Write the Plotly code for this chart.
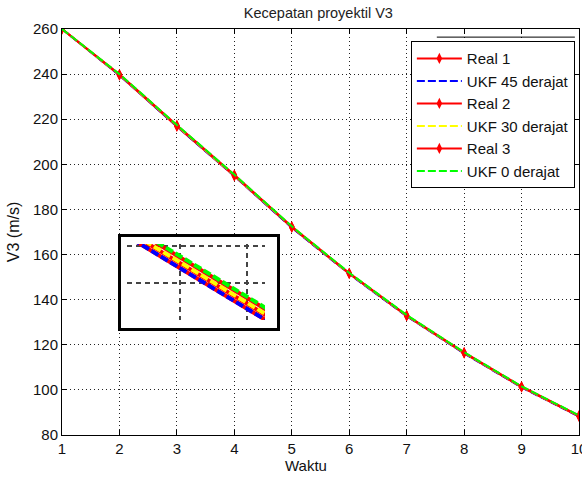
import plotly.graph_objects as go

waktu = [1, 2, 3, 4, 5, 6, 7, 8, 9, 10]
real1 = [260.0, 239.5, 216.8, 194.8, 172.0, 151.5, 132.8, 116.3, 101.2, 88.3]
ukf45 = [260.0, 239.5, 216.8, 194.8, 171.9, 151.4, 132.7, 116.2, 101.1, 88.2]
real2 = [260.0, 239.7, 217.07, 195.07, 172.2, 151.6, 132.9, 116.4, 101.3, 88.4]
ukf30 = [260.0, 239.8, 217.12, 195.12, 172.3, 151.7, 133.0, 116.5, 101.4, 88.5]
real3 = [260.0, 239.9, 217.38, 195.38, 172.4, 151.8, 133.1, 116.6, 101.5, 88.6]
ukf0 = [260.0, 240.0, 217.45, 195.45, 172.5, 151.9, 133.2, 116.7, 101.6, 88.7]

series = [
    ("Real 1", real1, "red", "solid", True),
    ("UKF 45 derajat", ukf45, "blue", "8px,3px", False),
    ("Real 2", real2, "red", "solid", True),
    ("UKF 30 derajat", ukf30, "yellow", "8px,3px", False),
    ("Real 3", real3, "red", "solid", True),
    ("UKF 0 derajat", ukf0, "#00ff00", "8px,3px", False),
]

FONT = "Liberation Sans, Arial, sans-serif"
fig = go.Figure()
for i, (name, vals, col, dash, mk) in enumerate(series):
    fig.add_trace(go.Scatter(
        x=waktu, y=vals, name=name,
        mode="lines+markers" if mk else "lines",
        line=dict(color=col, width=2, dash=dash),
        marker=dict(symbol="diamond-tall", size=8, color="red") if mk else None,
        xaxis="x", yaxis="y"))
# empty trace that creates the inset frame subplot
fig.add_trace(go.Scatter(x=[], y=[], showlegend=False, xaxis="x2", yaxis="y2"))
# inset (zoomed view of the same series)
for i, (name, vals, col, dash, mk) in enumerate(series):
    fig.add_trace(go.Scatter(
        x=waktu, y=vals, name=name, showlegend=False, mode="lines",
        line=dict(color=col, width=4, dash=dash),
        xaxis="x3", yaxis="y3"))

axis_common = dict(showline=True, linecolor="black", linewidth=1, mirror="ticks",
                   ticks="inside", ticklen=5, tickcolor="black", zeroline=False,
                   showgrid=True, gridcolor="#222", gridwidth=1, griddash="1px,3px",
                   automargin=False,
                   tickfont=dict(family=FONT, size=15, color="#111"))

fig.update_layout(
    width=582, height=480,
    margin=dict(l=62, r=3, t=29, b=45),
    paper_bgcolor="white", plot_bgcolor="white",
    font=dict(family=FONT, size=13, color="#111"),
    title=dict(text="Kecepatan proyektil V3", x=0.547, xanchor="center",
               y=0.973, yanchor="middle", font=dict(family=FONT, size=14.5, color="#222")),
    xaxis=dict(range=[1, 10], dtick=1, domain=[0, 1], ticklabeloverflow="allow",
               **axis_common),
    yaxis=dict(range=[80, 260], dtick=20, domain=[0, 1],
               title=dict(text="V3 (m/s)", standoff=9, font=dict(family=FONT, size=16)),
               **axis_common),
    # outer frame of the inset
    xaxis2=dict(range=[0, 1], domain=[0.114, 0.416], anchor="y2",
                showticklabels=False, ticks="", showgrid=False, zeroline=False,
                showline=True, mirror=True, linecolor="black", linewidth=3),
    yaxis2=dict(range=[0, 1], domain=[0.2635, 0.4877], anchor="x2",
                showticklabels=False, ticks="", showgrid=False, zeroline=False,
                showline=True, mirror=True, linecolor="black", linewidth=3),
    # inner zoomed axes
    xaxis3=dict(range=[3.3213, 3.5263], domain=[0.1257, 0.3926], anchor="y3",
                tickvals=[3.4, 3.5], showticklabels=False, ticks="", showline=False,
                showgrid=True, gridcolor="#444", gridwidth=2, griddash="5px,4px", zeroline=False),
    yaxis3=dict(range=[205.2, 209.3], domain=[0.2833, 0.4704], anchor="x3",
                tickvals=[207.2, 209.2], showticklabels=False, ticks="", showline=False,
                showgrid=True, gridcolor="#444", gridwidth=2, griddash="5px,4px", zeroline=False),
    legend=dict(x=0.992, y=0.970, xanchor="right", yanchor="top",
                bgcolor="white", bordercolor="black", borderwidth=1,
                font=dict(family=FONT, size=15, color="#111"),
                itemwidth=45),
    annotations=[dict(text="Waktu", xref="paper", yref="paper", x=0.472, y=-0.074,
                      xanchor="center", yanchor="middle", showarrow=False,
                      font=dict(family=FONT, size=15, color="#111"))],
    shapes=[dict(type="line", xref="paper", yref="paper",
                 x0=0.725, x1=0.992, y0=0.980, y1=0.980,
                 line=dict(color="black", width=1))],
)
fig.write_html("out.html")
